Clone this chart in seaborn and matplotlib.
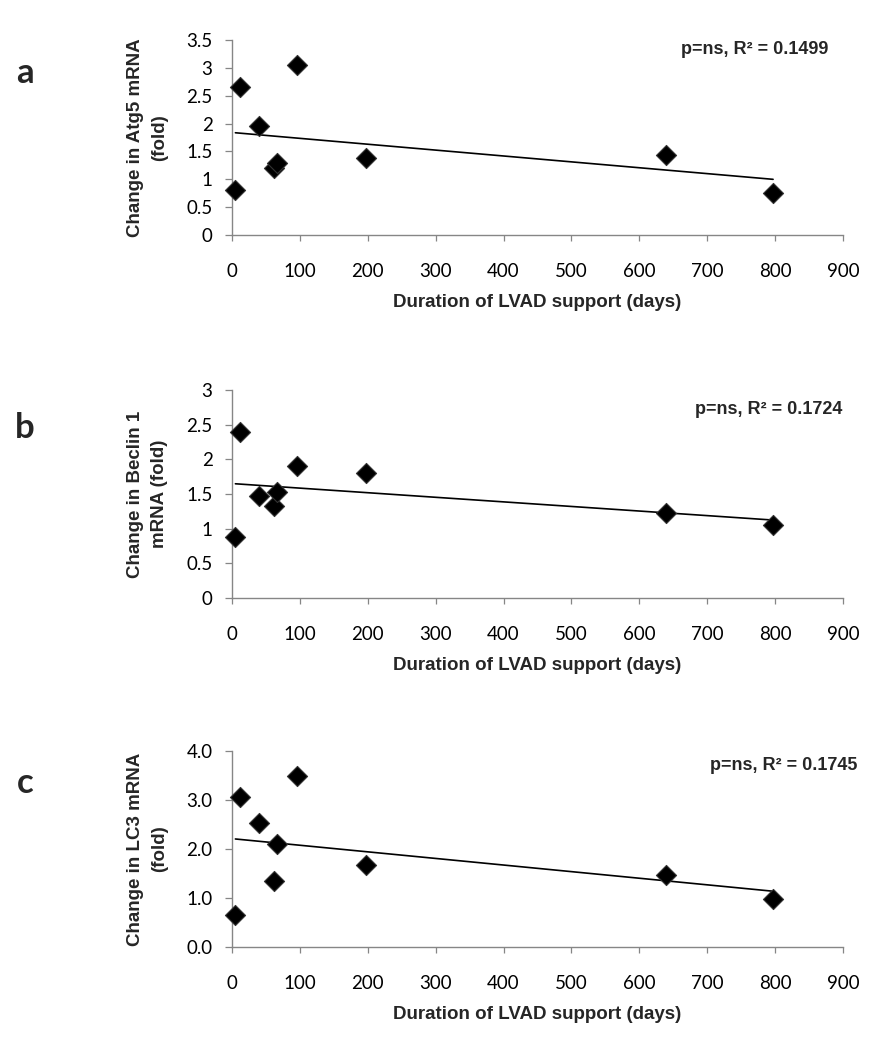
import matplotlib
matplotlib.use("Agg")
import matplotlib.pyplot as plt
import seaborn as sns
import numpy as np
import pandas as pd
from matplotlib.ticker import FormatStrFormatter, FuncFormatter

# ---- data ----
duration_days = [5, 12, 40, 62, 67, 96, 198, 640, 797]
atg5_fold = [0.80, 2.65, 1.96, 1.21, 1.29, 3.06, 1.38, 1.43, 0.76]
beclin1_fold = [0.88, 2.40, 1.47, 1.33, 1.53, 1.90, 1.81, 1.22, 1.05]
lc3_fold = [0.65, 3.07, 2.54, 1.35, 2.11, 3.48, 1.67, 1.47, 0.98]

panel_letters = ["a", "b", "c"]
ylabels = ["Change in Atg5 mRNA\n(fold)", "Change in Beclin 1\nmRNA (fold)", "Change in LC3 mRNA\n(fold)"]
annotations = ["p=ns, R\u00b2 = 0.1499", "p=ns, R\u00b2 = 0.1724", "p=ns, R\u00b2 = 0.1745"]
y_max = [3.5, 3.0, 4.0]
y_step = [0.5, 0.5, 1.0]
xlabel = "Duration of LVAD support (days)"
x_ticks = list(range(0, 1000, 100))

sns.set_theme(style="white")
plt.rcParams["font.family"] = ["Liberation Sans", "DejaVu Sans"]

W, H = 870, 1050
fig = plt.figure(figsize=(W / 100, H / 100), dpi=100)

# axes boxes in pixels: (left, top, right, bottom)
boxes = [(232, 40, 843, 235), (232, 390, 843, 598), (232, 751, 843, 947)]
annot_pos = [(828, 50), (842, 410), (857, 766)]
letter_pos = [(25, 73), (25, 428), (25, 783)]

series = [atg5_fold, beclin1_fold, lc3_fold]
spine_col = "#868686"

for i in range(3):
    l, t, r, b = boxes[i]
    ax = fig.add_axes([l / W, 1 - b / H, (r - l) / W, (b - t) / H])
    df = pd.DataFrame({"days": duration_days, "fold": series[i]})
    sns.regplot(data=df, x="days", y="fold", ax=ax, scatter=False, ci=None,
                truncate=True, line_kws=dict(color="black", lw=1.2))
    sns.scatterplot(data=df, x="days", y="fold", ax=ax, marker="D", s=105,
                    color="black", edgecolor="#333333", linewidth=0.8, zorder=3,
                    clip_on=False)
    ax.set_xlim(0, 900)
    ax.set_ylim(0, y_max[i])
    ax.set_xticks(x_ticks)
    ax.set_yticks(np.arange(0, y_max[i] + 1e-9, y_step[i]))
    if i == 2:
        ax.yaxis.set_major_formatter(FormatStrFormatter("%.1f"))
    else:
        ax.yaxis.set_major_formatter(FuncFormatter(lambda v, p: f"{v:g}"))
    for s in ["top", "right"]:
        ax.spines[s].set_visible(False)
    for s in ["left", "bottom"]:
        ax.spines[s].set_color(spine_col)
        ax.spines[s].set_linewidth(1.0)
    ax.tick_params(axis="x", direction="out", length=4.5, width=0.9, color=spine_col,
                   pad=16, bottom=True)
    ax.tick_params(axis="y", direction="out", length=5, width=0.9, color=spine_col,
                   pad=9, left=True)
    for lab in ax.get_xticklabels() + ax.get_yticklabels():
        lab.set_fontfamily("Lato")
        lab.set_fontsize(13.5)
        lab.set_color("black")
    ax.set_xlabel(xlabel, fontsize=13.5, fontweight="bold", labelpad=10)
    ax.set_ylabel(ylabels[i], fontsize=13.5, fontweight="bold", linespacing=1.55)
    ax.yaxis.set_label_coords(-0.104, 0.5)
    ax.patch.set_alpha(0)

    ax_x, ax_y = annot_pos[i]
    fig.text(ax_x / W, 1 - ax_y / H, annotations[i], ha="right", va="center",
             fontsize=13, fontweight="bold")
    lx, ly = letter_pos[i]
    fig.text(lx / W, 1 - ly / H, panel_letters[i], ha="center", va="center",
             fontsize=25, fontweight="bold", family=["Lato", "DejaVu Sans"])

fig.savefig("out.png", dpi=100, facecolor="white")
